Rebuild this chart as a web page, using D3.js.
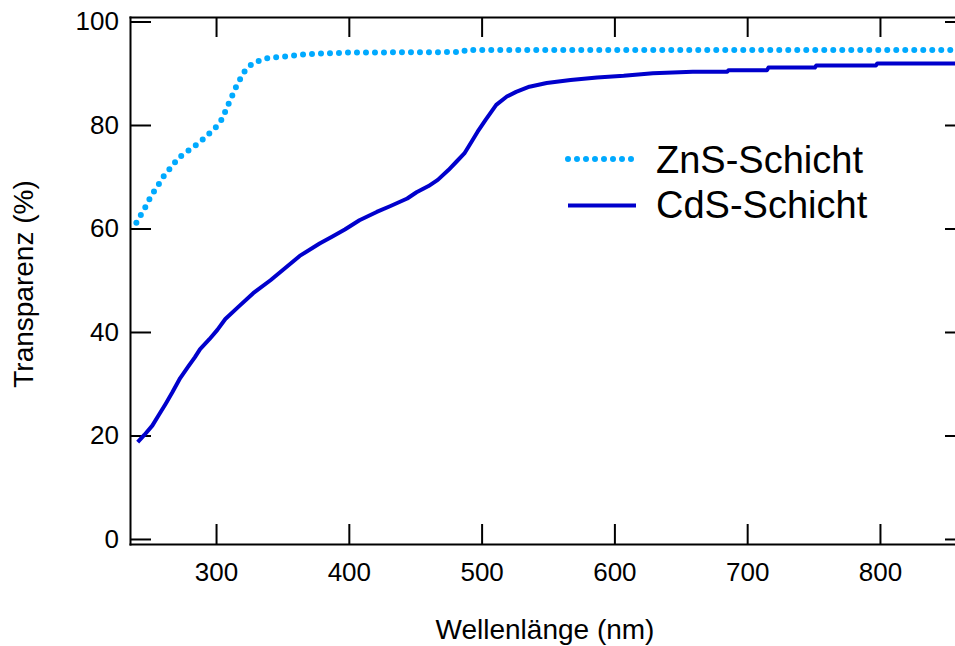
<!DOCTYPE html>
<meta charset="utf-8">
<style>
	body { margin: 0; background: #fff; }
	text { font-family: "Liberation Sans", Arial, sans-serif; fill: #000; }
	.axis path, .axis line { stroke: #000; stroke-width: 2; }
</style>

<div class="chart"></div>

<script src="https://d3js.org/d3.v7.min.js"></script>

<script>
	// ZnS layer: [wavelength nm, transparency %]
	var znsData = [
		[240, 61.1], [244, 62.9], [248, 64.7], [251, 66.3], [256, 68.2], [260, 69.9],
		[266, 71.8], [272, 73.7], [280, 75.2], [287, 76.5], [293, 77.9], [300, 79.6],
		[305, 81.3], [308, 83.3], [311, 84.9], [314, 86.8], [317, 88.3], [321, 90.2],
		[327, 91.8], [334, 92.6], [340, 93.0], [354, 93.3], [369, 93.7], [400, 94.0],
		[486, 94.1], [488, 94.5], [865, 94.5]
	];

	// CdS layer
	var cdsData = [
		[241, 18.7], [246, 20.1], [252, 21.9], [257, 24.0], [262, 26.1], [267, 28.3],
		[273, 31.1], [279, 33.3], [284, 35.1], [288, 36.7], [295, 38.6], [301, 40.4],
		[307, 42.5], [317, 44.9], [328, 47.5], [341, 50.0], [363, 54.7], [378, 57.1],
		[388, 58.5], [397, 59.8], [408, 61.6], [421, 63.2], [431, 64.3], [444, 65.8],
		[451, 67.0], [460, 68.2], [467, 69.4], [475, 71.3], [481, 72.9], [487, 74.5],
		[493, 77.0], [497, 78.7], [503, 81.0], [511, 83.9], [519, 85.5], [526, 86.4],
		[536, 87.4], [549, 88.1], [567, 88.7], [587, 89.2], [607, 89.5], [629, 90.0],
		[659, 90.3], [685, 90.3], [686, 90.6], [715, 90.6], [716, 91.1], [751, 91.1],
		[752, 91.5], [797, 91.5], [798, 91.9], [865, 91.9]
	];

	var xTicks = [300, 400, 500, 600, 700, 800],
			yTicks = [0, 20, 40, 60, 80, 100];

	var legendNames = ["ZnS-Schicht", "CdS-Schicht"];

	var width = 955, height = 646,
			plotLeft = 130, plotRight = 966, plotTop = 17, plotBottom = 544;

	var svg = d3.select('.chart')
			.append("svg")
			.attr("width", width)
			.attr("height", height);

	var x = d3.scaleLinear().domain([235.2, 864.8]).range([plotLeft, plotRight]);
	var y = d3.scaleLinear().domain([-0.97, 100.87]).range([plotBottom, plotTop]);

	// axes, ticks inward
	svg.append('g').attr('class', 'axis')
			.attr('transform', 'translate(0,' + plotBottom + ')')
			.call(d3.axisBottom(x).tickValues(xTicks).tickSizeInner(-20).tickSizeOuter(0).tickPadding(19))
			.selectAll('text').style('font-size', '26px');

	svg.append('g').attr('class', 'axis')
			.attr('transform', 'translate(0,' + plotTop + ')')
			.call(d3.axisTop(x).tickValues(xTicks).tickSizeInner(-20).tickSizeOuter(0).tickFormat(''));

	svg.append('g').attr('class', 'axis')
			.attr('transform', 'translate(' + plotLeft + ',0)')
			.call(d3.axisLeft(y).tickValues(yTicks).tickSizeInner(-21).tickSizeOuter(0).tickPadding(11))
			.selectAll('text').style('font-size', '26px');

	svg.append('g').attr('class', 'axis')
			.attr('transform', 'translate(' + plotRight + ',0)')
			.call(d3.axisRight(y).tickValues(yTicks).tickSizeInner(-21).tickSizeOuter(0).tickFormat(''));

	svg.selectAll('.axis .domain').attr('stroke-linecap', 'square');

	// clip
	svg.append('clipPath').attr('id', 'plot')
			.append('rect').attr('x', plotLeft).attr('y', plotTop)
			.attr('width', plotRight - plotLeft).attr('height', plotBottom - plotTop);

	var line = d3.line()
			.x(function(d) { return x(d[0]); })
			.y(function(d) { return y(d[1]); });

	var g = svg.append('g').attr('clip-path', 'url(#plot)');

	g.append('path')
			.attr('d', line(cdsData))
			.attr('fill', 'none')
			.attr('stroke', '#0000cc')
			.attr('stroke-width', 4)
			.attr('stroke-linejoin', 'round');

	g.append('path')
			.attr('d', line(znsData))
			.attr('fill', 'none')
			.attr('stroke', '#00aaff')
			.attr('stroke-width', 6)
			.attr('stroke-linecap', 'round')
			.attr('stroke-dasharray', '0 9');

	// legend
	var legend = svg.append('g');
	legend.append('line')
			.attr('x1', 568).attr('x2', 636).attr('y1', 159).attr('y2', 159)
			.attr('stroke', '#00aaff').attr('stroke-width', 6)
			.attr('stroke-linecap', 'round').attr('stroke-dasharray', '0 9');
	legend.append('line')
			.attr('x1', 568).attr('x2', 636).attr('y1', 205.5).attr('y2', 205.5)
			.attr('stroke', '#0000cc').attr('stroke-width', 4);
	legend.selectAll('text.leg')
			.data(legendNames)
			.enter().append('text')
			.attr('class', 'leg')
			.attr('x', 656)
			.attr('y', function(d, i) { return 173 + i * 45; })
			.style('font-size', '38px')
			.text(function(d) { return d; });

	// axis titles
	svg.append('text')
			.attr('x', 545).attr('y', 639)
			.attr('text-anchor', 'middle')
			.style('font-size', '28px')
			.text('Wellenlänge (nm)');

	svg.append('text')
			.attr('transform', 'translate(33,284) rotate(-90)')
			.attr('text-anchor', 'middle')
			.style('font-size', '28px')
			.text('Transparenz (%)');
</script>
